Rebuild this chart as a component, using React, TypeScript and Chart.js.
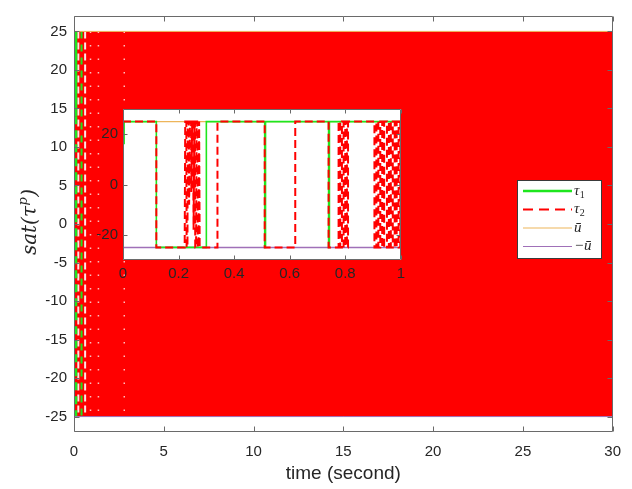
import React, { useEffect, useRef } from 'react';
import { Chart, registerables } from 'chart.js';
Chart.register(...registerables);

// ---------------- data ----------------
const mainXTicks = [0, 5, 10, 15, 20, 25, 30];
const mainYTicks = [-25, -20, -15, -10, -5, 0, 5, 10, 15, 20, 25];
const insetXTicks = [0, 0.2, 0.4, 0.6, 0.8, 1];
const insetYTicks = [-20, 0, 20];

const uBar = 25;
const mainSpan = [0, 30];
const insetSpan = [0, 1];

// main plot: tau2 chatters between -ū and ū over the whole horizon (drawn as a band)
const mainChatterSpan = [0, 30];
const mainTau1Solid: [number, number][] = [[0.1, 25], [0.1, 14]];
const mainTau1Dashed: [number, number][] = [[0.1, 14], [0.1, -25]];
const mainTau1Dashed2: [number, number][] = [[0.42, 25], [0.42, -25]];
const mainGapTimes = [0.24, 0.62];
const mainDotTimes = [0.92, 1.36, 2.8];

// inset (zoom on 0..1 s)
const insetTau1: [number, number][] = [
  [0.004, 16], [0.004, 25], [0.12, 25], [0.12, -25], [0.3, -25], [0.3, 25],
  [0.51, 25], [0.51, -25], [0.513, -25], [0.513, 25], [0.74, 25], [0.74, -25],
  [0.743, -25], [0.743, 25], [1, 25],
];
const insetTau2: [number, number][] = [
  [0, 25], [0.12, 25], [0.12, -25], [0.222, -25], [0.224, 25], [0.228, 25], [0.229, -25],
  [0.232, -25], [0.233, 25], [0.237, 25], [0.238, -8], [0.241, 25], [0.245, 25], [0.246, -3],
  [0.249, 25], [0.252, 25], [0.254, -18], [0.257, 25], [0.259, 25], [0.26, -25], [0.263, -25],
  [0.265, 25], [0.267, 25], [0.269, -25], [0.272, -25], [0.274, 25], [0.276, -25],
  [0.34, -25], [0.34, 25], [0.51, 25], [0.51, -25], [0.62, -25], [0.62, 25], [0.74, 25],
  [0.74, -25], [0.776, -25], [0.776, 25], [0.782, 25], [0.782, -25], [0.788, -25], [0.788, 25],
  [0.794, 25], [0.794, -25], [0.8, -25], [0.8, 25], [0.806, 25], [0.806, -25], [0.81, -25],
  [0.81, 25], [0.905, 25], [0.905, -25], [0.912, -25], [0.912, 25], [0.919, 25], [0.919, -25],
  [0.926, -25], [0.926, 25], [0.933, 25], [0.933, -25], [0.94, -25], [0.94, 25], [0.95, 25],
  [0.95, -25], [0.957, -25], [0.957, 25], [0.964, 25], [0.964, -25], [0.971, -25], [0.971, 25],
  [0.978, 25], [0.978, -25], [0.985, -25], [0.985, 25], [0.992, 25], [0.992, -25], [0.998, -25],
  [0.998, 25], [1, 25],
];

// ---------------- styles ----------------
const C_TAU1 = '#1EE61E';
const C_TAU2 = '#FF0000';
const C_UBAR = '#EDB55A';
const C_NUBAR = '#A070B8';
const C_TEXT = '#262626';
const C_BOX = '#6a6a6a';

type Pts = [number, number][];
const toXY = (p: Pts) => p.map(([x, y]) => ({ x, y }));
const line = (pts: Pts, color: string, width: number, dash: number[], order: number, extra: any = {}) => ({
  data: toXY(pts),
  borderColor: color,
  borderWidth: width,
  borderDash: dash,
  borderCapStyle: 'butt',
  pointRadius: 0,
  fill: false,
  tension: 0,
  order,
  ...extra,
});

const boxTicksPlugin = {
  id: 'boxTicks',
  afterDatasetsDraw(chart: any, _a: any, opts: any) {
    const { ctx, chartArea: a, scales } = chart;
    const len = opts.len ?? 5;
    const L = Math.round(a.left) + 0.5, R = Math.round(a.right) - 0.5;
    const T = Math.round(a.top) + 0.5, B = Math.round(a.bottom) - 0.5;
    ctx.save();
    ctx.strokeStyle = C_BOX;
    ctx.lineWidth = 1;
    ctx.beginPath();
    ctx.rect(L, T, R - L, B - T);
    for (const t of scales.x.ticks) {
      const px = Math.round(scales.x.getPixelForValue(t.value)) + 0.5;
      ctx.moveTo(px, B); ctx.lineTo(px, B - len);
      ctx.moveTo(px, T); ctx.lineTo(px, T + len);
    }
    for (const t of scales.y.ticks) {
      const py = Math.round(scales.y.getPixelForValue(t.value)) + 0.5;
      ctx.moveTo(L, py); ctx.lineTo(L + len, py);
      ctx.moveTo(R, py); ctx.lineTo(R - len, py);
    }
    ctx.stroke();
    ctx.restore();
  },
};

const whiteAreaPlugin = {
  id: 'whiteArea',
  beforeDraw(chart: any) {
    const { ctx, chartArea: a } = chart;
    ctx.save();
    ctx.fillStyle = '#ffffff';
    ctx.fillRect(a.left, a.top, a.right - a.left, a.bottom - a.top);
    ctx.restore();
  },
};

const legendItems = [
  { base: 'τ', sub: '1', color: C_TAU1, width: 2.5, dash: [] as number[] },
  { base: 'τ', sub: '2', color: C_TAU2, width: 2, dash: [10, 6] },
  { base: 'ū', sub: '', color: C_UBAR, width: 1.2, dash: [] as number[] },
  { base: '−ū', sub: '', color: C_NUBAR, width: 1.2, dash: [] as number[] },
];

const mainDecorPlugin = {
  id: 'mainDecor',
  afterDraw(chart: any) {
    const { ctx, chartArea: a } = chart;
    ctx.save();
    // legend box
    ctx.fillStyle = '#ffffff';
    ctx.fillRect(517.5, 180.5, 84, 78);
    ctx.strokeStyle = '#3a3a3a';
    ctx.lineWidth = 1;
    ctx.strokeRect(517.5, 180.5, 84, 78);
    const rows = [191, 209.5, 228, 246.5];
    legendItems.forEach((it, i) => {
      const y = rows[i];
      ctx.beginPath();
      ctx.strokeStyle = it.color;
      ctx.lineWidth = it.width;
      ctx.setLineDash(it.dash);
      ctx.moveTo(523, y);
      ctx.lineTo(572, y);
      ctx.stroke();
      ctx.setLineDash([]);
      ctx.fillStyle = C_TEXT;
      ctx.textBaseline = 'middle';
      ctx.textAlign = 'left';
      ctx.font = 'italic 15px "Liberation Serif"';
      ctx.fillText(it.base, 574, y);
      if (it.sub) {
        const w = ctx.measureText(it.base).width;
        ctx.font = '10px "Liberation Serif"';
        ctx.fillText(it.sub, 574 + w + 0.5, y + 4);
      }
    });
    // y-axis title sat(τ^p)
    ctx.translate(31, (a.top + a.bottom) / 2 - 2);
    ctx.rotate(-Math.PI / 2);
    ctx.fillStyle = C_TEXT;
    ctx.textBaseline = 'middle';
    ctx.textAlign = 'left';
    const f1 = 'italic 20px "DejaVu Serif"';
    const f2 = 'italic 13px "DejaVu Serif"';
    ctx.font = f1;
    const w1 = ctx.measureText('sat(τ').width;
    const w3 = ctx.measureText(')').width;
    ctx.font = f2;
    const w2 = ctx.measureText('p').width + 1;
    const x0 = -(w1 + w2 + w3) / 2;
    ctx.font = f1;
    ctx.fillText('sat(τ', x0, 0);
    ctx.font = f2;
    ctx.fillText('p', x0 + w1 + 0.5, -7);
    ctx.font = f1;
    ctx.fillText(')', x0 + w1 + w2, 0);
    ctx.restore();
  },
};

const tickFont = { family: '"Liberation Sans", Arial, sans-serif', size: 15 };

export default function App() {
  const mainRef = useRef<HTMLCanvasElement>(null);
  const insetRef = useRef<HTMLCanvasElement>(null);

  useEffect(() => {
    const mainDatasets: any[] = [
      {
        data: toXY([[mainChatterSpan[0], uBar], [mainChatterSpan[1], uBar]]),
        borderWidth: 0,
        borderColor: C_TAU2,
        backgroundColor: C_TAU2,
        fill: { value: -uBar },
        pointRadius: 0,
        order: 20,
      },
      ...mainGapTimes.map((t) => line([[t, uBar], [t, -uBar]], 'rgba(255,255,255,0.9)', 2, [7, 4], 15)),
      ...mainDotTimes.map((t) => line([[t, uBar], [t, -uBar]], 'rgba(255,255,255,0.75)', 1.5, [1.5, 12], 15)),
      line(mainTau1Dashed2, C_TAU1, 2, [7, 6], 12),
      line(mainTau1Solid, C_TAU1, 3, [], 11),
      line(mainTau1Dashed, C_TAU1, 3, [8, 6], 11),
      line([[mainSpan[0], uBar], [mainSpan[1], uBar]], C_UBAR, 1, [], 5),
      line([[mainSpan[0], -uBar], [mainSpan[1], -uBar]], C_NUBAR, 1, [], 5),
    ];

    const main = new Chart(mainRef.current as HTMLCanvasElement, {
      type: 'line',
      data: { datasets: mainDatasets },
      plugins: [boxTicksPlugin, mainDecorPlugin],
      options: {
        animation: false,
        responsive: false,
        events: [],
        layout: { padding: { top: 5, right: 17, left: 0, bottom: 0 } },
        plugins: {
          legend: { display: false },
          tooltip: { enabled: false },
          boxTicks: { len: 5 },
        } as any,
        scales: {
          x: {
            type: 'linear',
            min: mainSpan[0],
            max: mainSpan[1],
            afterBuildTicks: (s: any) => { s.ticks = mainXTicks.map((v) => ({ value: v })); },
            afterFit: (s: any) => { s.height = 57; },
            grid: { display: false, drawTicks: false },
            border: { display: false },
            ticks: { font: tickFont, color: C_TEXT, padding: 11, maxRotation: 0, autoSkip: false },
            title: {
              display: true,
              text: 'time (second)',
              font: { family: '"Liberation Sans", Arial, sans-serif', size: 19 },
              color: C_TEXT,
              padding: { top: 0, bottom: 4 },
            },
          },
          y: {
            type: 'linear',
            min: -27,
            max: 27,
            afterBuildTicks: (s: any) => { s.ticks = mainYTicks.map((v) => ({ value: v })); },
            afterFit: (s: any) => { s.width = 74; },
            grid: { display: false, drawTicks: false },
            border: { display: false },
            ticks: { font: tickFont, color: C_TEXT, padding: 7, autoSkip: false },
          },
        },
      } as any,
    });

    const insetDatasets: any[] = [
      line([[insetSpan[0], uBar], [insetSpan[1], uBar]], C_UBAR, 1.2, [], 6),
      line([[insetSpan[0], -uBar], [insetSpan[1], -uBar]], C_NUBAR, 1.5, [], 6),
      line(insetTau1, C_TAU1, 1.6, [], 4),
      line(insetTau2, C_TAU2, 2, [8, 4], 1),
    ];

    const inset = new Chart(insetRef.current as HTMLCanvasElement, {
      type: 'line',
      data: { datasets: insetDatasets },
      plugins: [whiteAreaPlugin, boxTicksPlugin],
      options: {
        animation: false,
        responsive: false,
        events: [],
        layout: { padding: { top: 8, right: 8, left: 0, bottom: 0 } },
        plugins: {
          legend: { display: false },
          tooltip: { enabled: false },
          boxTicks: { len: 4 },
        } as any,
        scales: {
          x: {
            type: 'linear',
            min: insetSpan[0],
            max: insetSpan[1],
            afterBuildTicks: (s: any) => { s.ticks = insetXTicks.map((v) => ({ value: v })); },
            afterFit: (s: any) => { s.height = 25; },
            grid: { display: false, drawTicks: false },
            border: { display: false },
            ticks: {
              font: tickFont, color: C_TEXT, padding: 5, maxRotation: 0, autoSkip: false,
              callback: (v: any) => String(Math.round(Number(v) * 10) / 10),
            },
          },
          y: {
            type: 'linear',
            min: -30,
            max: 30,
            afterBuildTicks: (s: any) => { s.ticks = insetYTicks.map((v) => ({ value: v })); },
            afterFit: (s: any) => { s.width = 43; },
            grid: { display: false, drawTicks: false },
            border: { display: false },
            ticks: { font: tickFont, color: C_TEXT, padding: 5, autoSkip: false },
          },
        },
      } as any,
    });

    return () => {
      main.destroy();
      inset.destroy();
    };
  }, []);

  return (
    <div style={{ position: 'fixed', left: 0, top: 0, width: 632, height: 489, background: '#ffffff' }}>
      <canvas ref={mainRef} width={632} height={489} style={{ position: 'absolute', left: 0, top: 0, width: 632, height: 489 }} />
      <canvas ref={insetRef} width={330} height={190} style={{ position: 'absolute', left: 80, top: 95, width: 330, height: 190 }} />
    </div>
  );
}
